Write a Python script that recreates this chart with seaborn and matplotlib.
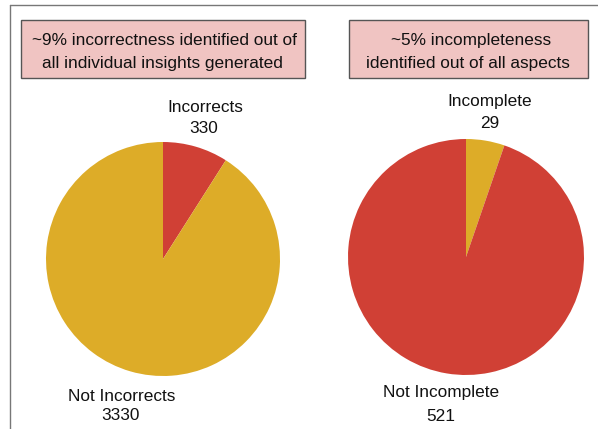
import matplotlib
matplotlib.use("Agg")
import matplotlib.pyplot as plt
import seaborn as sns
from matplotlib.patches import Rectangle
from matplotlib.lines import Line2D

# Data
left_labels = ["Incorrects", "Not Incorrects"]
left_counts = [330, 3330]
right_labels = ["Incomplete", "Not Incomplete"]
right_counts = [29, 521]
left_title = ["~9% incorrectness identified out of", "all individual insights generated"]
right_title = ["~5% incompleteness", "identified out of all aspects"]

sns.set_theme(style="white")
plt.rcParams["font.family"] = ["Liberation Sans", "DejaVu Sans"]

YELLOW = "#ddac28"
RED = "#d04035"
W, H = 598, 429
FS = 12.4

fig = plt.figure(figsize=(W / 100, H / 100), dpi=100)


def px_axes(cx, cy, r):
    return fig.add_axes([(cx - r) / W, (H - cy - r) / H, 2 * r / W, 2 * r / H])


def ftext(x, y, s):
    # y is the text baseline, measured in pixels from the top
    fig.text(x / W, 1 - y / H, s, ha="center", va="baseline", fontsize=FS,
             color="#111111")


# Frame lines (left and top)
fig.add_artist(Line2D([10 / W, 10 / W], [0, 1 - 5 / H], transform=fig.transFigure,
                      color="#777777", lw=1.0))
fig.add_artist(Line2D([10 / W, 1], [1 - 5 / H, 1 - 5 / H], transform=fig.transFigure,
                      color="#777777", lw=1.0))

# Title boxes
for (x0, x1), lines, cxs in [((21, 305), left_title, (164, 162)),
                             ((349, 588), right_title, (471, 468))]:
    fig.add_artist(Rectangle((x0 / W, 1 - 77.5 / H), (x1 - x0) / W, 57.5 / H,
                             transform=fig.transFigure, facecolor="#f0c4c2",
                             edgecolor="#555555", lw=1.0))
    ftext(cxs[0], 45, lines[0])
    ftext(cxs[1], 68, lines[1])

# Left pie
ax1 = px_axes(163, 259, 117)
ax1.pie(left_counts, colors=[RED, YELLOW], startangle=90, counterclock=False,
        wedgeprops=dict(linewidth=0))
ax1.set_xlim(-1, 1)
ax1.set_ylim(-1, 1)
ax1.set_aspect("auto")
ax1.axis("off")

# Right pie
ax2 = px_axes(466, 257, 118)
ax2.pie(right_counts, colors=[YELLOW, RED], startangle=90, counterclock=False,
        wedgeprops=dict(linewidth=0))
ax2.set_xlim(-1, 1)
ax2.set_ylim(-1, 1)
ax2.set_aspect("auto")
ax2.axis("off")

# Slice labels
ftext(205, 112, left_labels[0])
ftext(204, 133, str(left_counts[0]))
ftext(122, 401, left_labels[1])
ftext(120, 420, str(left_counts[1]))
ftext(490, 106, right_labels[0])
ftext(490, 128, str(right_counts[0]))
ftext(441, 397, right_labels[1])
ftext(441, 421, str(right_counts[1]))

fig.savefig("out.png", dpi=100)
